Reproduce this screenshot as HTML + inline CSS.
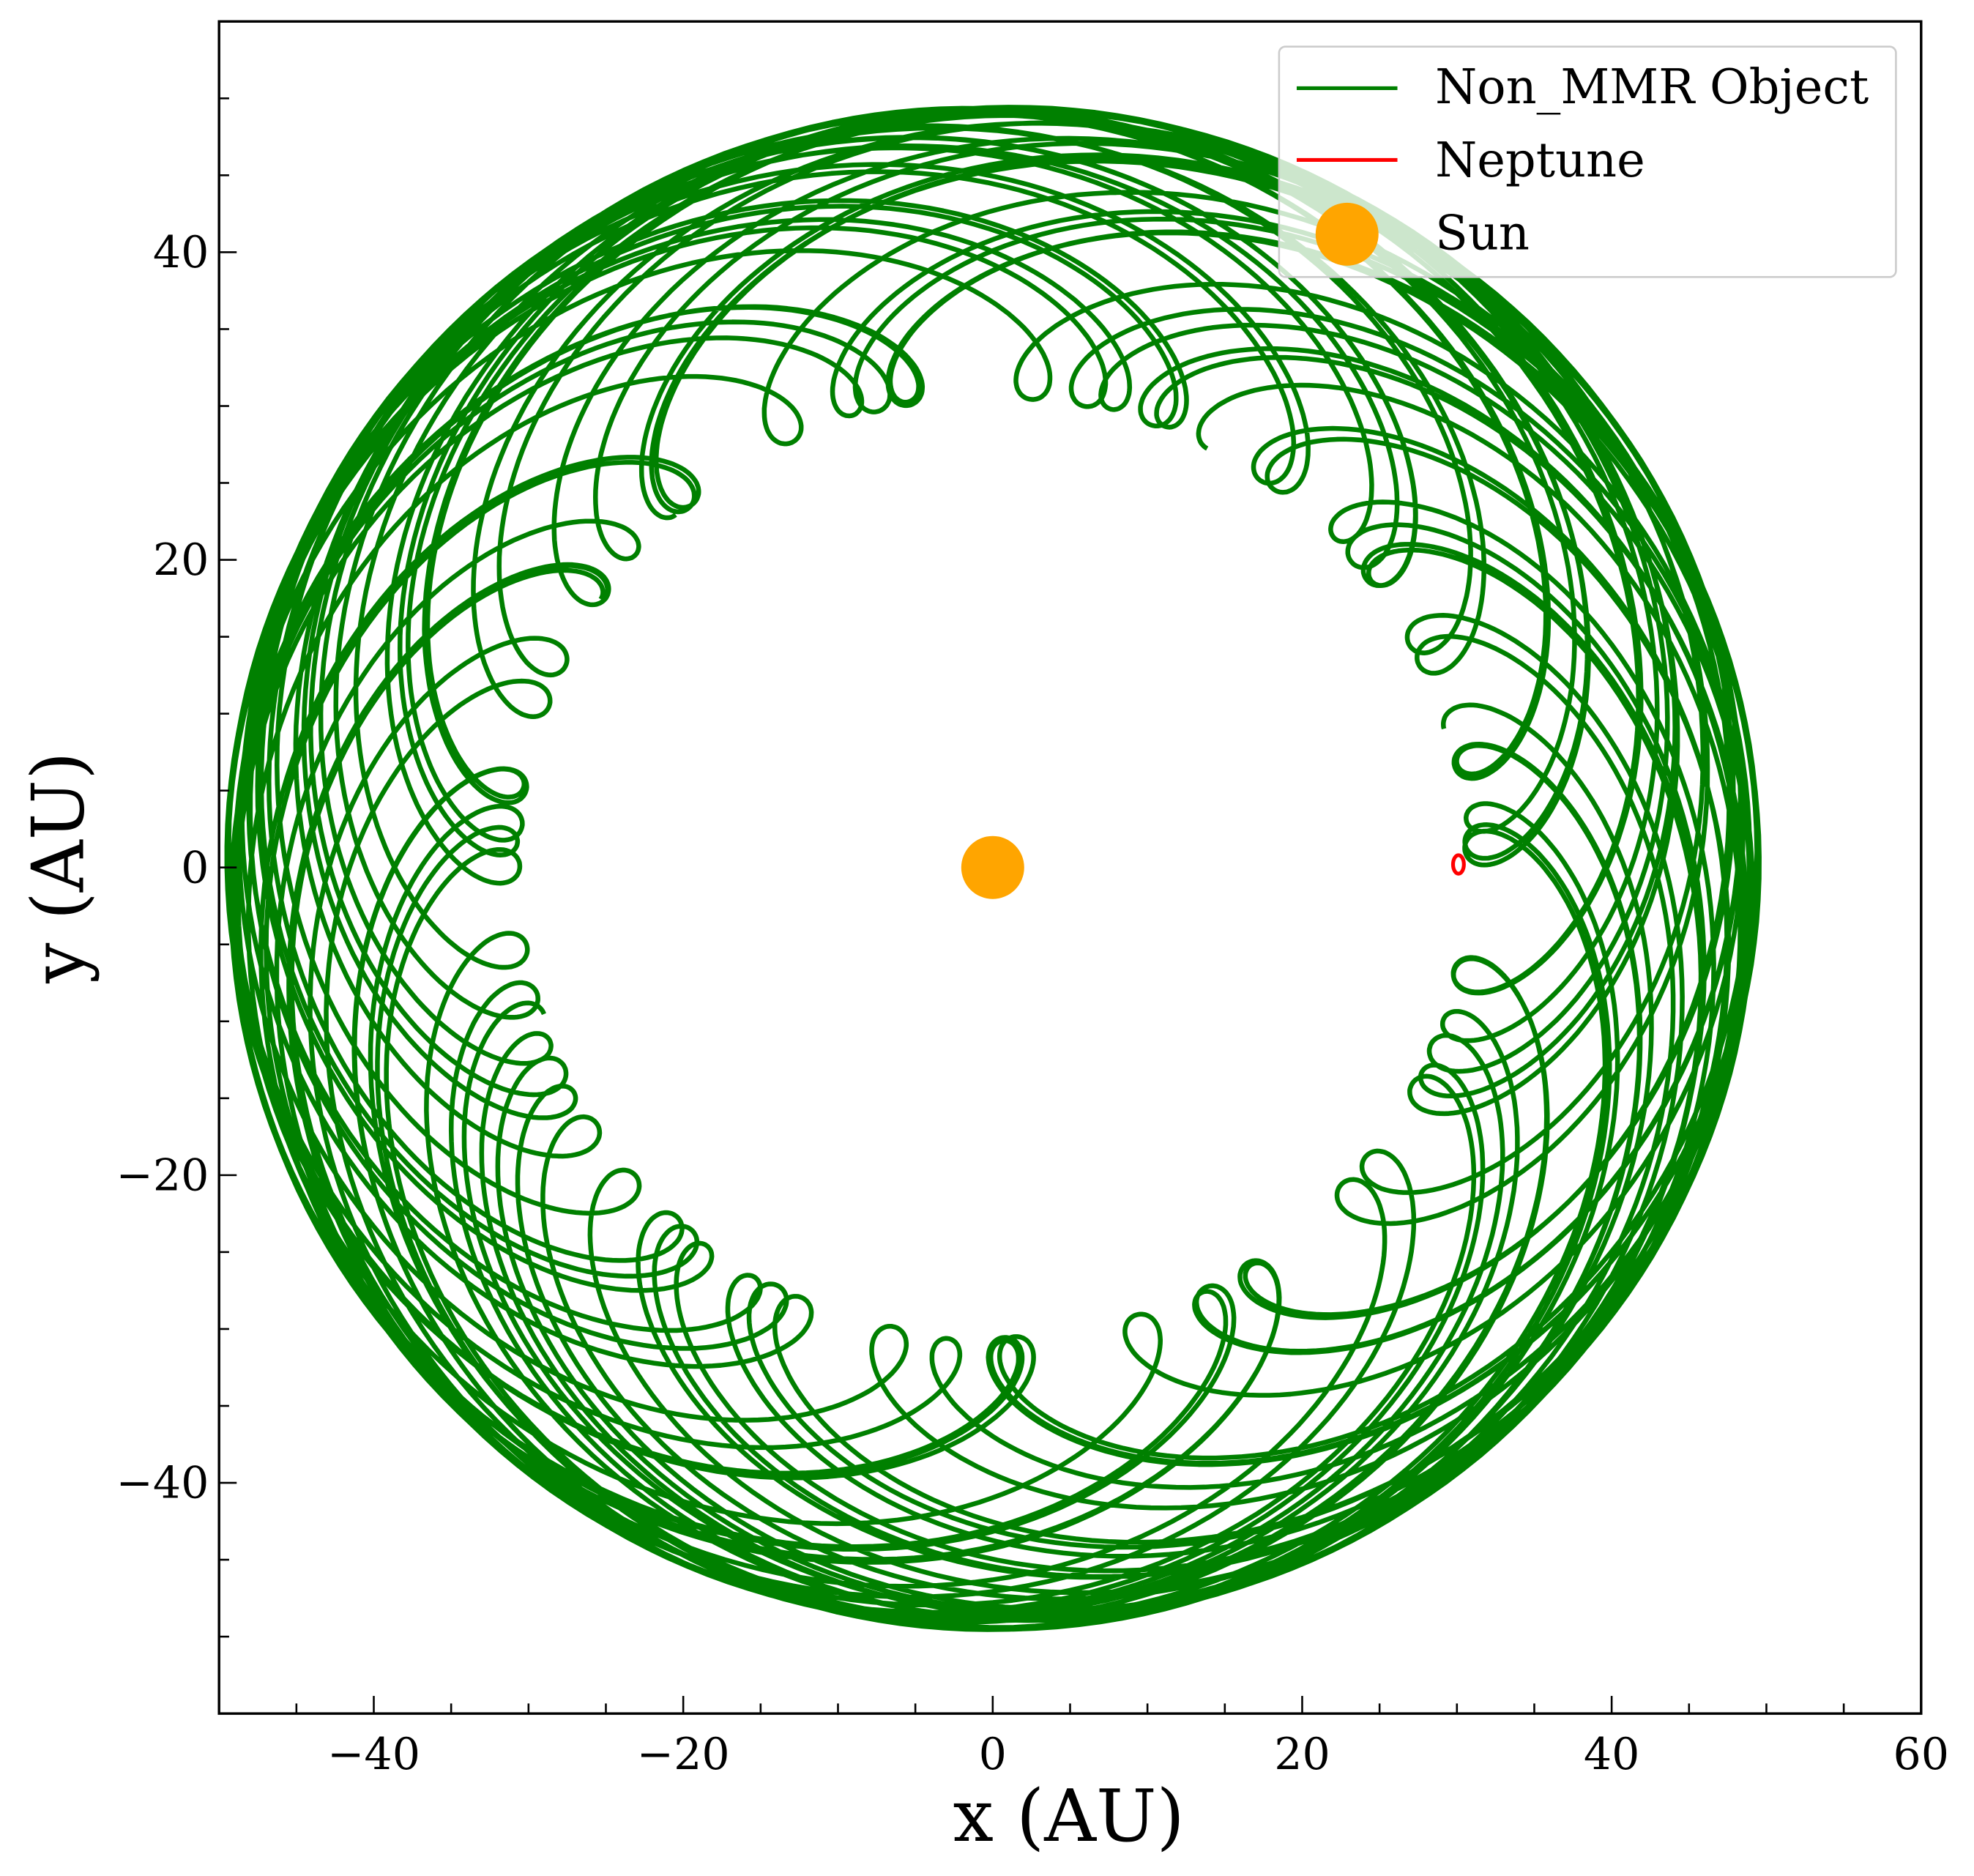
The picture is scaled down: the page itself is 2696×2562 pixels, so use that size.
<!DOCTYPE html>
<html><head><meta charset="utf-8"><style>
html,body{margin:0;padding:0;background:#fff}
svg{display:block}
text{font-family:"DejaVu Serif","Liberation Serif",serif}
</style></head><body>
<svg id="chart" width="2696" height="2562" viewBox="0 0 1568 1490" xmlns="http://www.w3.org/2000/svg">
<defs><clipPath id="clip"><rect x="174" y="17" width="1352" height="1344"/></clipPath></defs>
<rect x="0" y="0" width="1568" height="1490" fill="#fff"/>
<g id="plot" clip-path="url(#clip)"></g>
<g id="axes"></g>
<text x="849" y="1462" font-size="57" text-anchor="middle">x (AU)</text>
<text transform="translate(66,689) rotate(-90)" font-size="57" text-anchor="middle">y (AU)</text>
<g>
<rect x="1016" y="37" width="490" height="183" rx="5" fill="#fff" fill-opacity="0.8" stroke="#ccc" stroke-width="1.5"/>
<line x1="1030" y1="70" x2="1110" y2="70" stroke="#008000" stroke-width="3"/>
<text x="1140" y="82" font-size="38">Non_MMR Object</text>
<line x1="1030" y1="127" x2="1110" y2="127" stroke="#ff0000" stroke-width="3"/>
<text x="1140" y="140" font-size="38">Neptune</text>
<circle cx="1070" cy="186" r="25" fill="#ffa500"/>
<text x="1140" y="198" font-size="38">Sun</text>
</g>
</svg>
<script>
// orbital parameters (data): segments of the trajectory
const segSemiMajor = [39.75, 40.0, 40.15];
const segEcc = [0.232, 0.236, 0.234];
const segPeriArg = [0.3, 1.1, 2.3];
const segOrbits = [24, 22, 22];
const neptunePeriod = [164.8];
const neptunePos = [30.1, 0.2];
const neptuneSize = [0.35, 0.6];
const sunPos = [0, 0];
const xTicks = [-40, -20, 0, 20, 40, 60];
const yTicks = [-40, -20, 0, 20, 40];
const xDomain = [-50, 60];
const yDomain = [-55, 55];

const L=174,R=1526,T=17,B=1361;
const sx=v=>L+(v-xDomain[0])/(xDomain[1]-xDomain[0])*(R-L);
const sy=v=>B-(v-yDomain[0])/(yDomain[1]-yDomain[0])*(B-T);
const NS="http://www.w3.org/2000/svg";
const plot=document.getElementById('plot'), axes=document.getElementById('axes');
function mk(tag,attrs,parent){const e=document.createElementNS(NS,tag);for(const k in attrs)e.setAttribute(k,attrs[k]);parent.appendChild(e);return e;}

const PN=neptunePeriod[0];
let d="";
segSemiMajor.forEach((a,s)=>{
  const e=segEcc[s], P=Math.pow(a,1.5), n=segOrbits[s], steps=n*200;
  for(let i=0;i<=steps;i++){
    const t=i/steps*n*P;
    const M=2*Math.PI*t/P;
    let E=M;for(let k=0;k<8;k++)E=E-(E-e*Math.sin(E)-M)/(1-e*Math.cos(E));
    const f=2*Math.atan2(Math.sqrt(1+e)*Math.sin(E/2),Math.sqrt(1-e)*Math.cos(E/2));
    const r=a*(1-e*Math.cos(E));
    const th=f+segPeriArg[s]-2*Math.PI*t/PN;
    d+=(i?"L":"M")+sx(r*Math.cos(th)).toFixed(1)+","+sy(r*Math.sin(th)).toFixed(1);
  }
});
const path=mk('path',{d:d,fill:'none',stroke:'#008000','stroke-width':3.8,'stroke-linejoin':'round'},plot);



const nep=mk('ellipse',{cx:sx(neptunePos[0]),cy:sy(neptunePos[1]),rx:sx(neptuneSize[0])-sx(0),ry:sy(0)-sy(neptuneSize[1]),fill:'none',stroke:'#ff0000','stroke-width':3},plot);



const sun=mk('circle',{cx:sx(sunPos[0]),cy:sy(sunPos[1]),r:25,fill:'#ffa500'},plot);



const fr=mk('rect',{x:L,y:T,width:R-L,height:B-T,fill:'none',stroke:'#000','stroke-width':2},axes);



for(let v=-45;v<=60;v+=5){
  const x=sx(v), major=v%20===0;
  const tk=mk('line',{x1:x,x2:x,y1:B,y2:B-(major?14:8),stroke:'#000','stroke-width':1.5},axes);
  
  
}
xTicks.forEach(v=>{
  const tx=mk('text',{x:sx(v),y:B+44,'font-size':35,'text-anchor':'middle'},axes);
  tx.textContent=(v<0?"\u2212"+(-v):""+v);
  
  
});
for(let v=-50;v<=50;v+=5){
  const y=sy(v), major=v%20===0;
  const tk=mk('line',{x1:L,x2:L+(major?14:8),y1:y,y2:y,stroke:'#000','stroke-width':1.5},axes);
  
  
}
yTicks.forEach(v=>{
  const tx=mk('text',{x:L-8,y:sy(v)+12,'font-size':35,'text-anchor':'end'},axes);
  tx.textContent=(v<0?"\u2212"+(-v):""+v);
  
  
});
</script>
</body></html>
